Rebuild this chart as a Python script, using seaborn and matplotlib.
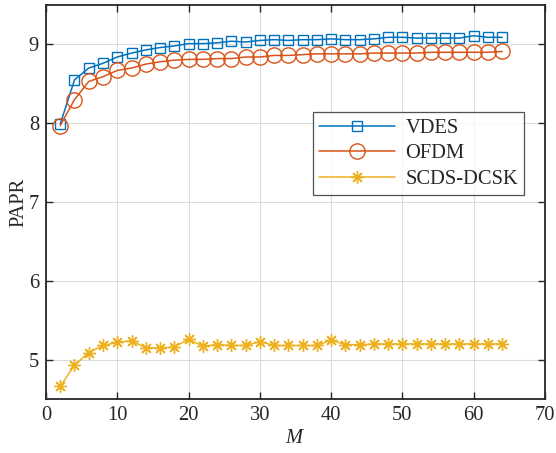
import numpy as np
import pandas as pd
import matplotlib
matplotlib.use("Agg")
import matplotlib.pyplot as plt
import seaborn as sns

# Number of subcarriers / chips
M = [2, 4, 6, 8, 10, 12, 14, 16, 18, 20, 22, 24, 26, 28, 30, 32,
     34, 36, 38, 40, 42, 44, 46, 48, 50, 52, 54, 56, 58, 60, 62, 64]

papr_vdes = [7.99, 8.55, 8.70, 8.76, 8.84, 8.89, 8.93, 8.96, 8.98, 9.01, 9.01, 9.02,
             9.04, 9.03, 9.05, 9.06, 9.05, 9.06, 9.06, 9.07, 9.06, 9.06, 9.07, 9.09,
             9.09, 9.08, 9.08, 9.08, 9.08, 9.11, 9.09, 9.09]
papr_ofdm = [7.97, 8.30, 8.53, 8.59, 8.67, 8.70, 8.75, 8.78, 8.80, 8.81, 8.81, 8.82,
             8.82, 8.84, 8.84, 8.86, 8.86, 8.87, 8.88, 8.88, 8.88, 8.88, 8.89, 8.89,
             8.89, 8.89, 8.90, 8.90, 8.90, 8.90, 8.90, 8.91]
papr_scds = [4.66, 4.93, 5.09, 5.18, 5.22, 5.24, 5.15, 5.15, 5.16, 5.26, 5.17, 5.19,
             5.18, 5.18, 5.23, 5.18, 5.18, 5.18, 5.18, 5.25, 5.19, 5.19, 5.20, 5.20,
             5.20, 5.20, 5.20, 5.20, 5.20, 5.20, 5.20, 5.20]

labels = ["VDES", "OFDM", "SCDS-DCSK"]
colors = ["#0072BD", "#D95319", "#EDB120"]

sns.set_theme(style="whitegrid")
plt.rcParams["font.family"] = ["Liberation Serif", "DejaVu Serif"]
plt.rcParams["mathtext.fontset"] = "custom"
plt.rcParams["mathtext.it"] = "Liberation Serif:italic"

FS = 14.8

fig = plt.figure(figsize=(5.56, 4.53), dpi=100)
ax = fig.add_axes([0.0827, 0.119, 0.8975, 0.870])

df = pd.DataFrame({
    "M": M * 3,
    "PAPR": papr_vdes + papr_ofdm + papr_scds,
    "scheme": [labels[0]] * len(M) + [labels[1]] * len(M) + [labels[2]] * len(M),
})

styles = {
    "VDES": dict(marker="s", markersize=7.5, markerfacecolor="none"),
    "OFDM": dict(marker="o", markersize=11, markerfacecolor="none"),
    "SCDS-DCSK": dict(marker=(8, 2, 0), markersize=9),
}

for lab, col in zip(labels, colors):
    sub = df[df["scheme"] == lab]
    sns.lineplot(data=sub, x="M", y="PAPR", ax=ax, color=col, linewidth=1.1,
                 markeredgecolor=col, markeredgewidth=1.0, label=lab,
                 **styles[lab])

ax.set_xlim(0, 70)
ax.set_ylim(4.5, 9.5)
ax.set_xticks(np.arange(0, 71, 10))
ax.set_yticks([5, 6, 7, 8, 9])
ax.set_xlabel("$M$", fontsize=FS)
ax.set_ylabel("PAPR", fontsize=FS)
ax.xaxis.labelpad = 3
ax.yaxis.labelpad = 0

ax.grid(True, color="#dcdcdc", linewidth=0.8)
ax.set_facecolor("white")
for sp in ax.spines.values():
    sp.set_visible(True)
    sp.set_color("#262626")
    sp.set_linewidth(1.3)
ax.tick_params(direction="in", length=5, width=1.0, colors="#262626",
               labelsize=FS, top=True, right=True, bottom=True, left=True,
               labelcolor="#262626", pad=5)

leg = ax.legend(loc="upper left", bbox_to_anchor=(0.535, 0.728),
                frameon=True, fancybox=False, fontsize=FS, handlelength=3.7,
                borderpad=0.3, labelspacing=0.3, handletextpad=0.5,
                borderaxespad=0)
leg.get_frame().set_edgecolor("#262626")
leg.get_frame().set_linewidth(0.9)

fig.savefig("out.png", dpi=100, facecolor="white")
